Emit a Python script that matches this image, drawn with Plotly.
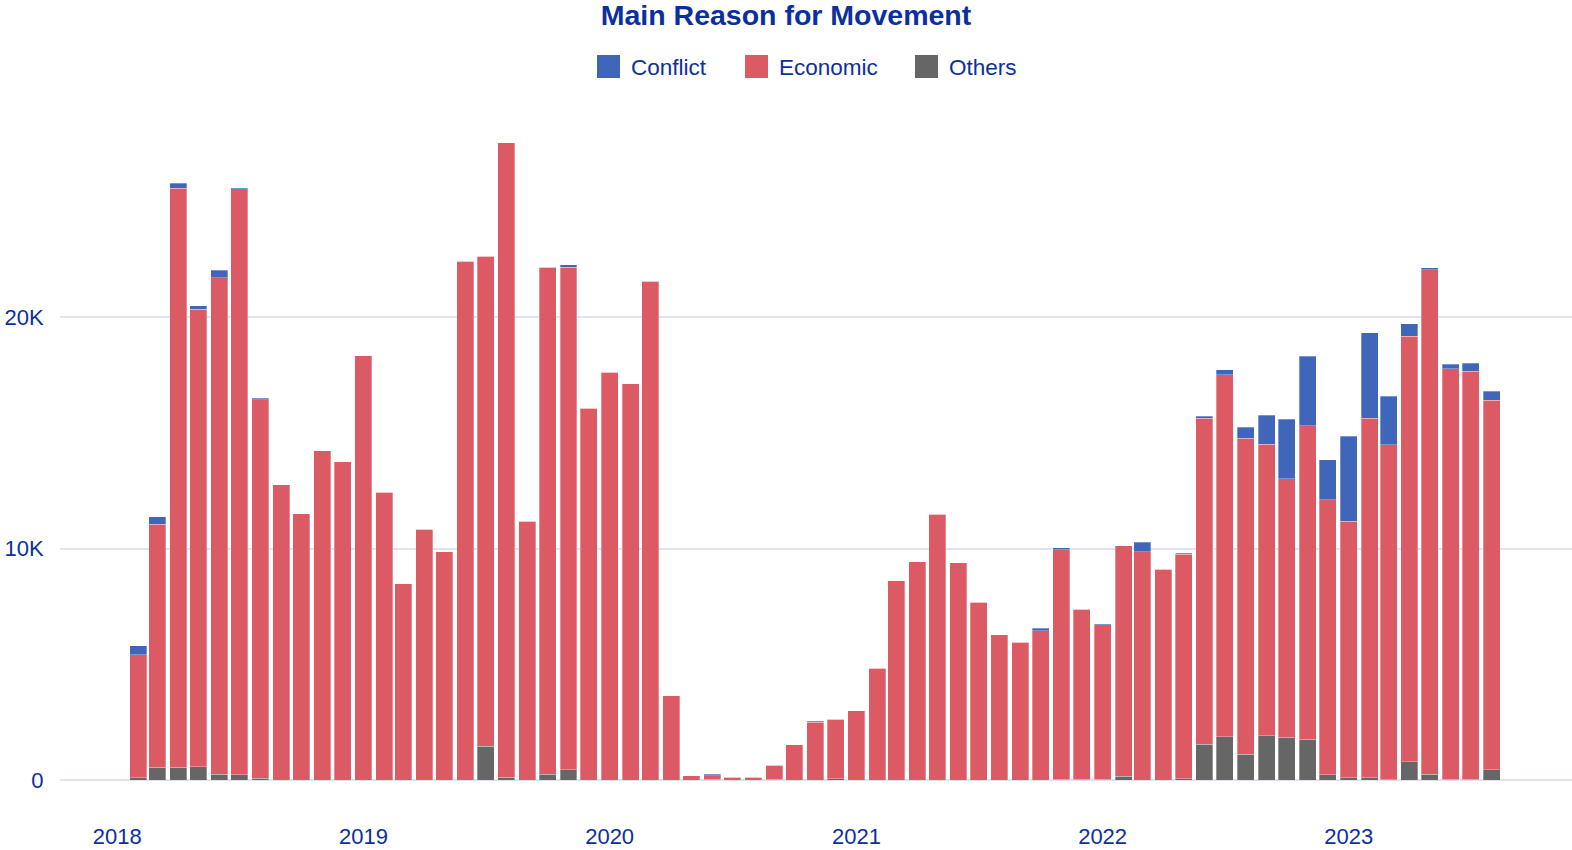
import plotly.graph_objects as go

months = [f"{y}-{m:02d}-01" for y in range(2018, 2024) for m in range(1, 13)]
months = months[1:68]  # Feb 2018 .. Aug 2023

conflict = [380, 330, 220, 140, 330, 50, 50, 0, 0, 0, 0, 0,
            0, 0, 0, 0, 0, 0, 0, 0, 0, 120, 0, 0,
            0, 0, 0, 0, 50, 0, 0, 0, 0, 60, 0,
            0, 0, 0, 0, 0, 0, 0, 0, 0, 110, 80, 0,
            50, 0, 400, 0, 50, 90, 220, 460, 1250, 2580, 3000, 1730,
            3670, 3690, 2090, 530, 80, 180, 350, 380]
economic = [5330, 10490, 25030, 19770, 21470, 25330, 16370, 12750, 11510, 14220, 13750, 18330,
            12440, 8490, 10840, 9870, 22420, 21190, 27440, 11180, 21920, 21710, 16070, 17620,
            17130, 21550, 3640, 180, 150, 110, 110, 600, 1530, 2490, 2570,
            3000, 4840, 8620, 9440, 11490, 9380, 7690, 6270, 5950, 6450, 9930, 7350,
            6680, 9970, 9870, 9110, 9710, 14090, 15640, 13670, 12600, 11180, 13550, 11890,
            11090, 15550, 14470, 18400, 21810, 17740, 17630, 15970]
others = [90, 560, 550, 580, 240, 220, 70, 0, 0, 0, 0, 0,
          0, 0, 0, 0, 0, 1450, 110, 0, 240, 440, 0, 0,
          0, 0, 0, 0, 40, 0, 0, 40, 0, 0, 50,
          0, 0, 0, 0, 0, 0, 0, 0, 0, 0, 30, 30,
          30, 160, 0, 0, 50, 1550, 1870, 1110, 1910, 1840, 1760, 220,
          90, 90, 20, 780, 240, 40, 40, 450]

year_ticks = ["2018-01-01", "2019-01-01", "2020-01-01", "2021-01-01", "2022-01-01", "2023-01-01"]
year_labels = ["2018", "2019", "2020", "2021", "2022", "2023"]

series = [("Others", others, "#666666"),
          ("Economic", economic, "#dc5a63"),
          ("Conflict", conflict, "#3f66b9")]

TEXT = "#0c2f9e"

T, B = 109, 70
PH = 850 - T - B
BASE = 850 - B

fig = go.Figure()
for name, vals, col in series:
    fig.add_trace(go.Bar(x=months, y=vals, name=name, showlegend=False,
                         marker=dict(color=col, line=dict(color="rgba(255,255,255,0.6)", width=0.5))))

# custom legend (large square swatches)
legend_items = [("Conflict", "#3f66b9", 597), ("Economic", "#dc5a63", 745), ("Others", "#666666", 915)]
shapes = []
annotations = []
for name, col, x0 in legend_items:
    shapes.append(dict(type="rect", xref="paper", yref="paper",
                       x0=(x0 - 60) / 1512, x1=(x0 + 23 - 60) / 1512,
                       y0=(BASE - 78) / PH, y1=(BASE - 55) / PH,
                       fillcolor=col, line=dict(width=0)))
    annotations.append(dict(text=name, xref="paper", yref="paper",
                            x=(x0 + 32 - 60) / 1512, y=(BASE - 67) / PH,
                            xanchor="left", yanchor="middle", showarrow=False,
                            font=dict(size=22.5, color=TEXT, family="Liberation Sans, Arial, sans-serif")))

fig.update_layout(
    width=1572, height=850,
    barmode="stack", bargap=0.1,
    plot_bgcolor="white", paper_bgcolor="white",
    margin=dict(l=60, r=0, t=T, b=B),
    font=dict(family="Liberation Sans, Arial, sans-serif", size=22, color=TEXT),
    title=dict(text="<b>Main Reason for Movement</b>", x=0.5, xanchor="center",
               y=0.982, yanchor="middle", font=dict(size=28.5, color=TEXT)),
    xaxis=dict(type="date", range=["2017-10-08", "2023-11-28"],
               tickvals=year_ticks, ticktext=year_labels,
               ticks="outside", ticklen=37, tickcolor="rgba(0,0,0,0)",
               showgrid=False, zeroline=False, showline=False,
               tickfont=dict(size=22, color=TEXT)),
    yaxis=dict(range=[0, 29000], tickvals=[0, 10000, 20000], ticktext=["0", "10K", "20K"],
               ticks="outside", ticklen=11, tickcolor="rgba(0,0,0,0)",
               showgrid=True, gridcolor="#dfe2f2", gridwidth=1.5,
               zeroline=True, zerolinecolor="#dfe2f2", zerolinewidth=1.5,
               showline=False, tickfont=dict(size=22, color=TEXT)),
    shapes=shapes, annotations=annotations,
)

fig.write_html("out.html", config={"displayModeBar": False},
               post_script="document.body.style.margin='0';document.body.style.overflow='hidden';")
